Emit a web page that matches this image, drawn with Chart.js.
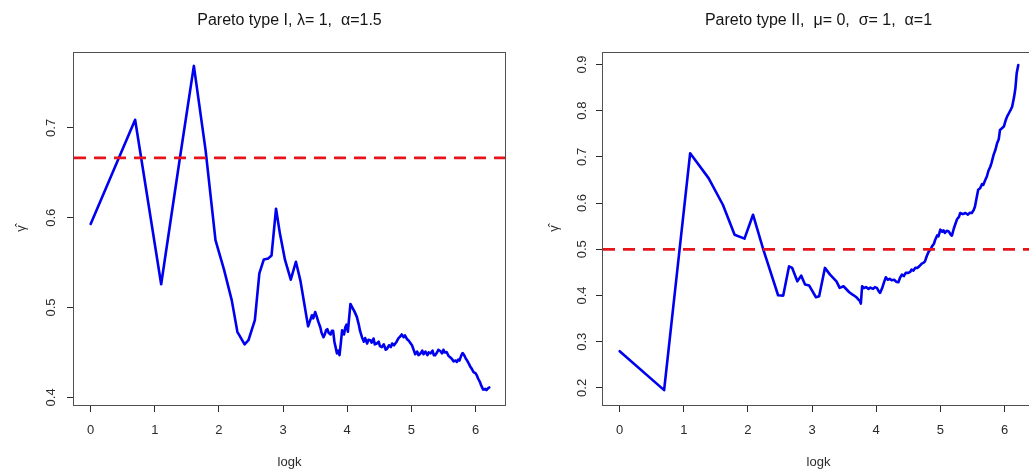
<!DOCTYPE html>
<html>
<head>
<meta charset="utf-8">
<script src="https://cdn.jsdelivr.net/npm/chart.js@4.4.1/dist/chart.umd.min.js"></script>
<style>
  html, body { margin: 0; padding: 0; background: #fff; overflow: hidden; width: 1029px; height: 470px; }
  canvas { position: absolute; top: 0; }
  #c1 { left: 0; }
  #c2 { left: 514px; }
</style>
</head>
<body>
<canvas id="c1" width="514" height="470"></canvas>
<canvas id="c2" width="530" height="470"></canvas>
<script>
// Hill-type estimates of the tail index gamma against log(k)

const xTicks = [0, 1, 2, 3, 4, 5, 6];
const yTicksI = [0.4, 0.5, 0.6, 0.7];
const yTicksII = [0.2, 0.3, 0.4, 0.5, 0.6, 0.7, 0.8, 0.9];

// Pareto type I, lambda = 1, alpha = 1.5
const logkI = [0, 0.693, 1.099, 1.386, 1.609, 1.792, 1.946, 2.08, 2.20, 2.287, 2.40, 2.46, 2.56, 2.63,
  2.70, 2.77, 2.82, 2.89, 2.95, 3.03, 3.12, 3.20, 3.27, 3.33, 3.39, 3.45, 3.47, 3.50, 3.52, 3.55,
  3.58, 3.60, 3.63, 3.65, 3.67, 3.69, 3.71, 3.74, 3.76, 3.78, 3.80, 3.84, 3.86, 3.88, 3.90, 3.92,
  3.95, 3.97, 3.99, 4.01, 4.05, 4.08, 4.11, 4.15, 4.18, 4.20, 4.23, 4.26, 4.28, 4.31, 4.33, 4.36,
  4.38, 4.41, 4.43, 4.46, 4.49, 4.51, 4.54, 4.57, 4.60, 4.62, 4.65, 4.68, 4.70, 4.73, 4.77, 4.80,
  4.83, 4.85, 4.88, 4.90, 4.93, 4.96, 4.99, 5.01, 5.04, 5.06, 5.09, 5.11, 5.14, 5.17, 5.19, 5.22,
  5.25, 5.27, 5.30, 5.33, 5.35, 5.37, 5.40, 5.42, 5.45, 5.48, 5.50, 5.52, 5.55, 5.58, 5.60, 5.63,
  5.66, 5.69, 5.71, 5.73, 5.75, 5.78, 5.80, 5.83, 5.85, 5.87, 5.90, 5.92, 5.94, 5.97, 6.00, 6.02,
  6.04, 6.07, 6.09, 6.12, 6.15, 6.17, 6.19, 6.215];
const gammaI = [0.593, 0.709, 0.526, 0.664, 0.769, 0.675, 0.575, 0.542, 0.508, 0.473, 0.459, 0.4636, 0.486, 0.538,
  0.5536, 0.5547, 0.558, 0.610, 0.5826, 0.553, 0.531, 0.551, 0.530, 0.5045, 0.479, 0.4914, 0.488, 0.495, 0.491, 0.484,
  0.478, 0.472, 0.467, 0.470, 0.4747, 0.476, 0.472, 0.470, 0.474, 0.474, 0.462, 0.449, 0.452, 0.447, 0.460, 0.4747,
  0.470, 0.478, 0.481, 0.473, 0.504, 0.500, 0.496, 0.4896, 0.481, 0.474, 0.467, 0.462, 0.466, 0.460, 0.464, 0.4636,
  0.461, 0.4655, 0.459, 0.4599, 0.462, 0.457, 0.456, 0.459, 0.453, 0.454, 0.458, 0.456, 0.460, 0.458, 0.462, 0.466,
  0.468, 0.470, 0.467, 0.469, 0.465, 0.463, 0.460, 0.458, 0.452, 0.448, 0.451, 0.447, 0.4487, 0.452, 0.448, 0.451,
  0.447, 0.450, 0.449, 0.452, 0.447, 0.4468, 0.450, 0.453, 0.4516, 0.449, 0.453, 0.450, 0.4505, 0.446, 0.445, 0.443,
  0.440, 0.441, 0.4394, 0.442, 0.441, 0.447, 0.4494, 0.446, 0.443, 0.441, 0.437, 0.434, 0.432, 0.428, 0.427, 0.4245,
  0.421, 0.417, 0.413, 0.4086, 0.4095, 0.408, 0.4097, 0.411];
const trueGammaI = 1 / 1.5;

// Pareto type II, mu = 0, sigma = 1, alpha = 1
const logkII = [0, 0.693, 1.099, 1.386, 1.609, 1.792, 1.946, 2.079, 2.24, 2.47, 2.55, 2.64, 2.69, 2.77,
  2.83, 2.89, 2.955, 3.06, 3.11, 3.20, 3.28, 3.38, 3.43, 3.49, 3.58, 3.62, 3.67, 3.70, 3.72, 3.74,
  3.76, 3.78, 3.81, 3.84, 3.88, 3.91, 3.95, 3.98, 4.01, 4.04, 4.06, 4.09, 4.11, 4.13, 4.15, 4.18,
  4.21, 4.24, 4.28, 4.31, 4.345, 4.37, 4.40, 4.43, 4.46, 4.50, 4.53, 4.55, 4.58, 4.61, 4.64, 4.67,
  4.71, 4.74, 4.76, 4.79, 4.82, 4.85, 4.87, 4.90, 4.92, 4.95, 4.97, 5.00, 5.03, 5.05, 5.07, 5.10,
  5.13, 5.16, 5.18, 5.21, 5.23, 5.26, 5.29, 5.31, 5.35, 5.39, 5.43, 5.46, 5.49, 5.52, 5.54, 5.57,
  5.59, 5.62, 5.65, 5.67, 5.70, 5.725, 5.75, 5.78, 5.80, 5.83, 5.86, 5.885, 5.91, 5.93, 5.96, 5.99,
  6.02, 6.04, 6.07, 6.10, 6.12, 6.15, 6.17, 6.19, 6.215];
const gammaII = [0.2795, 0.1952, 0.708, 0.654, 0.5964, 0.5316, 0.523, 0.5748, 0.4992, 0.4005, 0.3998, 0.463, 0.4597, 0.4307,
  0.443, 0.4236, 0.4214, 0.3962, 0.3983, 0.4597, 0.4452, 0.4307, 0.4165, 0.420, 0.407, 0.403, 0.3983, 0.395, 0.3912, 0.389,
  0.3825, 0.420, 0.416, 0.418, 0.4143, 0.417, 0.4143, 0.418, 0.4165, 0.409, 0.4057, 0.415, 0.4236, 0.432, 0.4394, 0.434,
  0.436, 0.4329, 0.434, 0.430, 0.4286, 0.438, 0.4452, 0.442, 0.449, 0.4489, 0.451, 0.456, 0.454, 0.460, 0.4597, 0.463,
  0.469, 0.471, 0.4739, 0.486, 0.4955, 0.500, 0.5063, 0.512, 0.5208, 0.530, 0.528, 0.5424, 0.538, 0.541, 0.5353, 0.540,
  0.5387, 0.532, 0.5294, 0.545, 0.5532, 0.565, 0.570, 0.5785, 0.576, 0.5785, 0.575, 0.579, 0.5785, 0.585, 0.5927, 0.615,
  0.6288, 0.632, 0.641, 0.6396, 0.650, 0.6575, 0.670, 0.6792, 0.688, 0.7044, 0.716, 0.7297, 0.738, 0.7584, 0.762, 0.7656,
  0.780, 0.7872, 0.795, 0.803, 0.8088, 0.830, 0.8485, 0.881, 0.8989];
const trueGammaII = 1 / 2;

const FONT = "'Liberation Sans', Arial, Helvetica, sans-serif";
const INK = '#2a2a2a';
const BLUE = '#0000f0';
const RED = '#e8141c';

// frame around the plotting region plus the main title above it
const framePlugin = {
  id: 'frame',
  afterDatasetsDraw(chart, args, opts) {
    const { ctx, chartArea: a } = chart;
    ctx.save();
    ctx.strokeStyle = '#505050';
    ctx.lineWidth = 1;
    ctx.strokeRect(a.left - 0.5, a.top + 0.5, a.right - a.left + 1, a.bottom - a.top);
    ctx.fillStyle = '#151515';
    ctx.font = '16px ' + FONT;
    ctx.textAlign = 'center';
    ctx.textBaseline = 'alphabetic';
    ctx.fillText(opts.text, (a.left + a.right) / 2, 25);
    ctx.restore();
  }
};

function pairs(xs, ys) {
  return xs.map((x, i) => ({ x: x, y: ys[i] }));
}

function makePanel(id, spec) {
  const xMin = -0.26, xMax = 6.46;
  return new Chart(document.getElementById(id), {
    type: 'line',
    data: {
      datasets: [
        {
          data: [{ x: xMin, y: spec.level }, { x: xMax, y: spec.level }],
          borderColor: RED, borderWidth: 2.8, borderDash: [12, 8],
          pointRadius: 0, tension: 0, fill: false
        },
        {
          data: pairs(spec.xs, spec.ys),
          borderColor: BLUE, borderWidth: 2.6, pointRadius: 0, tension: 0,
          fill: false, borderJoinStyle: 'round', borderCapStyle: 'round'
        }
      ]
    },
    options: {
      responsive: false,
      animation: false,
      devicePixelRatio: 1,
      layout: { padding: { top: 52, right: spec.padRight, bottom: 0, left: 0 } },
      plugins: {
        legend: { display: false },
        tooltip: { enabled: false },
        title: { display: false },
        frame: { text: spec.title }
      },
      scales: {
        x: {
          type: 'linear', min: xMin, max: xMax,
          afterBuildTicks: s => { s.ticks = xTicks.map(v => ({ value: v })); },
          afterFit: s => { s.height = 65; },
          grid: { drawOnChartArea: false, drawTicks: true, tickLength: 7, color: INK, tickColor: INK, tickWidth: 1 },
          border: { display: false },
          ticks: { color: INK, font: { family: FONT, size: 13 }, padding: 11, maxRotation: 0, autoSkip: false },
          title: { display: true, text: 'logk', color: INK, font: { family: FONT, size: 13 }, padding: { top: 0, bottom: 0 } }
        },
        y: {
          type: 'linear', min: spec.yMin, max: spec.yMax,
          afterBuildTicks: s => { s.ticks = spec.yTicks.map(v => ({ value: v })); },
          afterFit: s => { s.width = spec.axisWidth; },
          grid: { drawOnChartArea: false, drawTicks: true, tickLength: 7, color: INK, tickColor: INK, tickWidth: 1 },
          border: { display: false },
          ticks: { color: INK, font: { family: FONT, size: 13 }, padding: spec.tickPad,
                   minRotation: 90, maxRotation: 90, crossAlign: 'center', autoSkip: false },
          title: { display: true, text: 'γ\u0302', color: INK, font: { family: FONT, size: 13 },
                   padding: { top: spec.titlePad, bottom: 0 } }
        }
      }
    },
    plugins: [framePlugin]
  });
}

makePanel('c1', {
  title: 'Pareto type I, λ= 1,  α=1.5',
  xs: logkI, ys: gammaI, level: trueGammaI,
  yMin: 0.3915, yMax: 0.7845, yTicks: yTicksI,
  axisWidth: 74, padRight: 9, tickPad: 6.5, titlePad: 14
});

makePanel('c2', {
  title: 'Pareto type II,  μ= 0,  σ= 1,  α=1',
  xs: logkII, ys: gammaII, level: trueGammaII,
  yMin: 0.163, yMax: 0.927, yTicks: yTicksII,
  axisWidth: 89, padRight: 10, tickPad: 5, titlePad: 33
});
</script>
</body>
</html>
